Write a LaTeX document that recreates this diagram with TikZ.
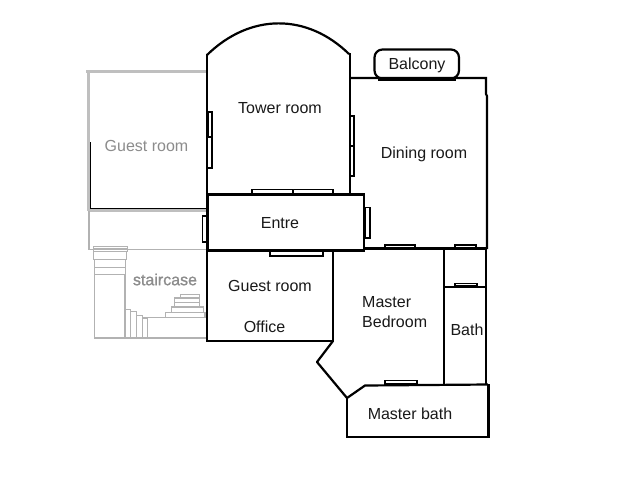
\documentclass[tikz,border=0pt]{standalone}
\usepackage{fontspec}
\setmainfont{Liberation Sans}
\tikzset{
  wall/.style={draw=black,line width=2.2pt,line join=miter},
  thickwall/.style={draw=black,line width=3pt},
  win/.style={draw=black,line width=1.4pt,fill=white},
  ghost/.style={draw=black!25,line width=3pt},
  ghostline/.style={draw=black!30,line width=1.2pt},
  lab/.style={font=\fontsize{16}{18}\selectfont,text=black!90,inner sep=0pt},
  ghostlab/.style={font=\fontsize{16}{18}\selectfont,text=black!45,inner sep=0pt}
}
\begin{document}
\begin{tikzpicture}[x=1pt,y=-1pt]
\useasboundingbox[fill=white] (0,0) rectangle (640,480);
% ghost guest room
\draw[ghost] (86,71) -- (207,71);
\draw[ghost] (88,71) -- (88,211);
\draw[ghost] (88,210) -- (207,210);
\draw[black,line width=1pt] (90.5,142) -- (90.5,209);
\draw[black,line width=1pt] (90,208.5) -- (207,208.5);
% ghost lobby and staircase
\draw[ghostline] (89,211) -- (89,249.5) -- (207,249.5);
\draw[ghostline] (93.3,246.7) rectangle (127.7,251.7);
\draw[ghostline] (93.3,248.5) -- (127.7,248.5);
\draw[ghostline] (93.3,251.7) rectangle (126.7,259.3);
\draw[ghostline] (94.3,259.3) rectangle (125.7,267.3);
\draw[ghostline] (94.3,267.3) rectangle (125.7,274.3);
\draw[ghostline] (94.3,274.3) rectangle (125,338);
\draw[ghostline] (125,309.3) rectangle (130.7,338);
\draw[ghostline] (130.7,311.7) rectangle (136.7,338);
\draw[ghostline] (136.7,315.3) rectangle (142.3,338);
\draw[ghostline] (142.3,318) rectangle (147.7,338);
\draw[ghostline] (147.7,317.3) rectangle (206.7,338);
\draw[ghostline] (165.3,312.3) rectangle (205,317.3);
\draw[ghostline] (171.3,307) rectangle (203.7,312.3);
\draw[ghostline] (174.3,302.3) rectangle (199.7,307);
\draw[ghostline] (174.3,298) rectangle (199.7,302.3);
\draw[ghostline] (180.3,294.3) rectangle (199.7,298);
% tower room
\draw[wall] (207,55) .. controls (250,13) and (307,13) .. (349,54);
\draw[wall] (207,54) -- (207,342);
\draw[wall] (350,53) -- (350,195);
% dining room
\draw[wall] (349,78) -- (486,78) -- (486,94) -- (487,96) -- (487,249);
\draw[wall] (365,248.5) -- (487,248.5);
% balcony
\draw[wall,rounded corners=8pt] (374.5,78.5) -- (374.5,49.5) -- (459,49.5) -- (459,78.5) -- cycle;
\draw[thickwall] (378,79) -- (456,79);
% entre
\draw[wall] (208,194.5) -- (364,194.5) -- (364,250.5) -- (208,250.5) -- cycle;
% guest room and office
\draw[wall] (333,251) -- (333,341) -- (207,341);
% master bedroom
\draw[wall,line join=round] (333,341) -- (317,362) -- (347,398) -- (365,385.5) -- (488,384.5);
\draw[wall] (444,249) -- (444,385);
\draw[wall] (444,287) -- (486,287);
\draw[wall] (486,249) -- (486,385);
% master bath
\draw[wall] (347,398) -- (347,437) -- (488.5,437) -- (488.5,384);
% windows
\draw[win] (207.5,112) rectangle (212,168);
\draw[line width=2.4pt] (208,112) -- (208,137);
\draw[win] (207.5,137) -- (212,137);
\draw[win] (350,116) rectangle (354,176);
\draw[win] (350,146) -- (354,146);
\draw[win] (252,189.5) rectangle (333,194);
\draw[win] (293,189.5) -- (293,194);
\draw[win] (202.5,216) rectangle (207,242);
\draw[win] (365,207.5) rectangle (370,238);
\draw[thickwall] (364.5,207) -- (364.5,238);
\draw[win] (270,251) rectangle (323,256);
\draw[win] (385,245) rectangle (415,248);
\draw[win] (455,245) rectangle (476,248);
\draw[win] (455,283.5) rectangle (477,286);
\draw[win] (385,380.5) rectangle (417,384);
% labels
\node[lab] (balcony) at (417,65.5) {Balcony};
\node[lab] (tower) at (280,108) {Tower room};
\node[lab] (dining) at (424,154) {Dining room};
\node[lab] (entre) at (280,223.5) {Entre};
\node[lab] (guest) at (270,286) {Guest room};
\node[lab] (office) at (264.5,327) {Office};
\node[lab,anchor=west] (master) at (362,302) {Master};
\node[lab,anchor=west] (bedroom) at (362,322) {Bedroom};
\node[lab] (bath) at (467,330) {Bath};
\node[lab] (masterbath) at (410,414) {Master bath};
\node[ghostlab] (ghostguest) at (146.5,146) {Guest room};
\node[ghostlab,font=\fontsize{16}{18}\selectfont\addfontfeature{FakeBold=1}] (staircase) at (165,279.5) {staircase};
\end{tikzpicture}
\end{document}
